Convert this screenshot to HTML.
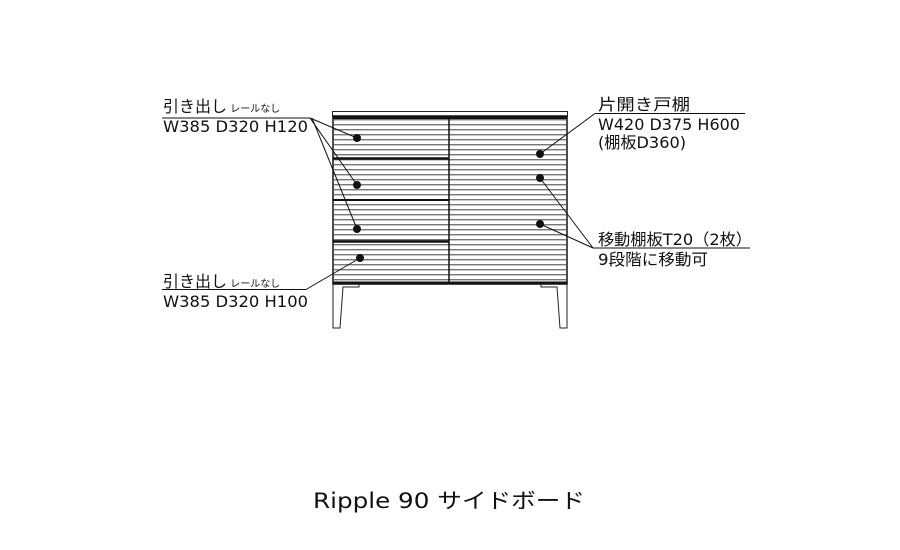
<!DOCTYPE html>
<html><head><meta charset="utf-8"><style>
body{margin:0;background:#fff}
svg text{font-family:"DejaVu Sans","Noto Sans CJK JP",sans-serif;fill:#111}
</style></head><body>
<svg width="900" height="545" viewBox="0 0 900 545" xmlns="http://www.w3.org/2000/svg">
<defs>
<pattern id="st" x="0" y="119" width="10" height="5" patternUnits="userSpaceOnUse">
<rect x="0" y="0" width="10" height="1.4" fill="#777"/>
</pattern>
</defs>
<rect x="332.5" y="111.5" width="235" height="5" fill="#fff" stroke="#222" stroke-width="1"/>
<rect x="334" y="118" width="232" height="165" fill="url(#st)"/>
<rect x="333" y="116" width="234" height="168" fill="none" stroke="#111" stroke-width="1.5"/>
<line x1="333" y1="117.5" x2="567" y2="117.5" stroke="#111" stroke-width="3"/>
<line x1="333" y1="283" x2="567" y2="283" stroke="#111" stroke-width="3"/>
<line x1="449" y1="117" x2="449" y2="283" stroke="#111" stroke-width="1.5"/>
<line x1="333" y1="158.5" x2="449" y2="158.5" stroke="#111" stroke-width="2.5"/>
<line x1="333" y1="200" x2="449" y2="200" stroke="#111" stroke-width="2"/>
<line x1="333" y1="241.5" x2="449" y2="241.5" stroke="#111" stroke-width="2.5"/>
<polyline points="333,284 333,328 340,328 343,287 359,287 359,284" fill="none" stroke="#222" stroke-width="1"/>
<polyline points="567,284 567,328 560,328 557,287 541,287 541,284" fill="none" stroke="#222" stroke-width="1"/>
<g fill="#111">
<circle cx="357" cy="138" r="4"/><circle cx="357" cy="185" r="4"/><circle cx="357" cy="229" r="4"/><circle cx="360" cy="258" r="4"/>
<circle cx="540" cy="154" r="4"/><circle cx="540" cy="178" r="4"/><circle cx="540" cy="224" r="4"/>
</g>
<g stroke="#111" stroke-width="1" fill="none">
<line x1="162" y1="118" x2="310" y2="118"/>
<line x1="310" y1="118" x2="357" y2="138"/>
<line x1="310" y1="118" x2="357" y2="185"/>
<line x1="312" y1="118" x2="357" y2="229"/>
<line x1="162" y1="289.5" x2="306" y2="289.5"/>
<line x1="306" y1="289.5" x2="360" y2="258"/>
<line x1="595" y1="113.5" x2="745" y2="113.5"/>
<line x1="595" y1="113.5" x2="540" y2="154"/>
<line x1="593" y1="248" x2="750" y2="248"/>
<line x1="593" y1="248" x2="540" y2="178"/>
<line x1="593" y1="248" x2="540" y2="224"/>
</g>
<text x="163" y="112" font-size="16">引き出し<tspan font-size="10"> レールなし</tspan></text>
<text x="163" y="132" font-size="16" textLength="145" lengthAdjust="spacingAndGlyphs">W385 D320 H120</text>
<text x="163" y="287" font-size="16">引き出し<tspan font-size="10"> レールなし</tspan></text>
<text x="163" y="307" font-size="16" textLength="145" lengthAdjust="spacingAndGlyphs">W385 D320 H100</text>
<text x="598" y="110" font-size="16" textLength="92" lengthAdjust="spacingAndGlyphs">片開き戸棚</text>
<text x="598" y="130" font-size="16" textLength="142" lengthAdjust="spacingAndGlyphs">W420 D375 H600</text>
<text x="598" y="148" font-size="16" textLength="88" lengthAdjust="spacingAndGlyphs">(棚板D360)</text>
<text x="598" y="245" font-size="16" textLength="154" lengthAdjust="spacingAndGlyphs">移動棚板T20（2枚）</text>
<text x="598" y="265" font-size="16" textLength="110" lengthAdjust="spacingAndGlyphs">9段階に移動可</text>
<text x="313" y="508" font-size="21" textLength="272" lengthAdjust="spacingAndGlyphs">Ripple 90 サイドボード</text>
</svg>
</body></html>
